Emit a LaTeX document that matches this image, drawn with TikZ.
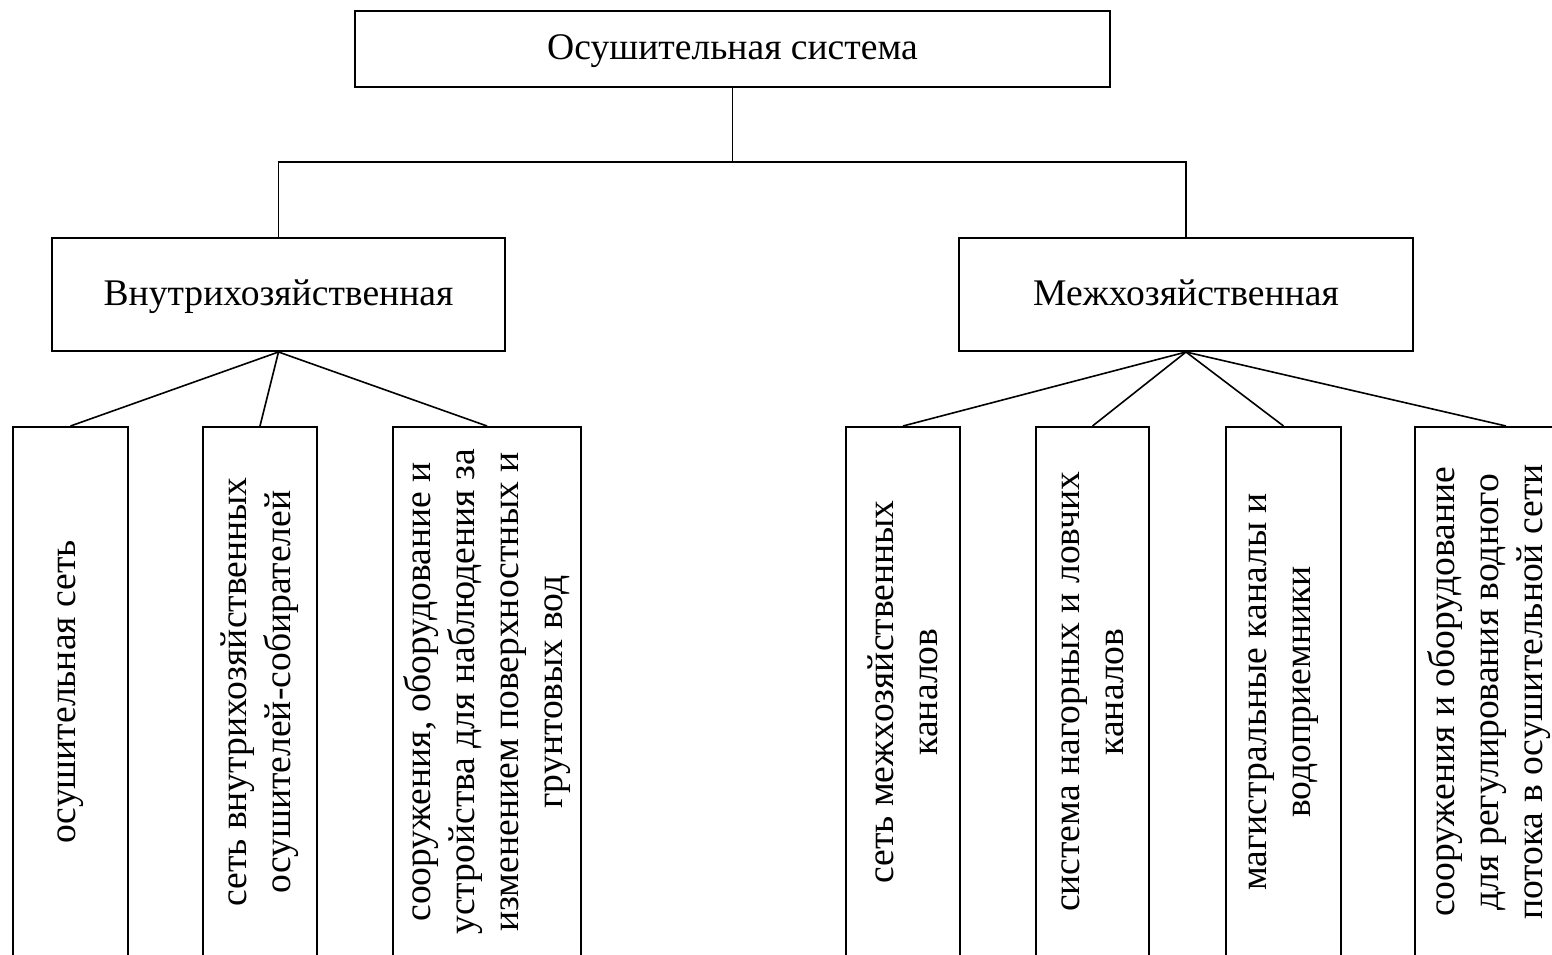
\documentclass[tikz,border=0pt]{standalone}
\usepackage{fontspec}
\setmainfont{Liberation Serif}
\begin{document}
\begin{tikzpicture}[x=0.5pt, y=-0.5pt,
  txt/.style={inner sep=0pt, align=center, font=\fontsize{18.8pt}{22pt}\selectfont},
  box/.style={txt, draw, line width=1pt},
  hbox/.style={box, text height=14.5pt, text depth=4pt},
  vbox/.style={box, rotate=90, minimum width=265pt},
  link/.style={line width=0.8pt}]
\useasboundingbox (0,0) rectangle (1552,954);
\clip (0,0) rectangle (1552,954);

% top level
\node[hbox, minimum width=377.5pt, minimum height=38pt] (top) at (732.5,49) {Осушительная система};

% second level
\node[hbox, minimum width=226.5pt, minimum height=56.5pt] (ml) at (278.5,294.5) {Внутрихозяйственная};
\node[hbox, minimum width=227pt, minimum height=56.5pt] (mr) at (1186,294.5) {Межхозяйственная};

\coordinate (j) at (732.5,162);
\draw[link] (top.south) -- (j);
\draw[link] (ml.north) -- (ml.north |- j) -- (mr.north |- j) -- (mr.north);

% third level, left branch
\node[vbox, minimum height=57.5pt] (b1) at (70.5,692) {осушительная сеть};
\node[vbox, minimum height=57pt] (b2) at (260,692) {сеть внутрихозяйственных\\осушителей-собирателей};
\node[vbox, minimum height=94pt] (b3) at (487,692) {сооружения, оборудование и\\устройства для наблюдения за\\изменением поверхностных и\\грунтовых вод};

% third level, right branch
\node[vbox, minimum height=57pt] (b4) at (903,692) {сеть межхозяйственных\\каналов};
\node[vbox, minimum height=56.5pt] (b5) at (1092.5,692) {система нагорных и ловчих\\каналов};
\node[vbox, minimum height=57.5pt] (b6) at (1283.5,692) {магистральные каналы и\\водоприемники};
\node[vbox, minimum height=91pt] (b7) at (1506,692) {};
\node[txt, rotate=90] (b7t) at (1489,692) {сооружения и оборудование\\для регулирования водного\\потока в осушительной сети};

\foreach \b in {b1,b2,b3} \draw[link] (ml.south) -- (\b.east);
\foreach \b in {b4,b5,b6,b7} \draw[link] (mr.south) -- (\b.east);
\end{tikzpicture}
\end{document}
